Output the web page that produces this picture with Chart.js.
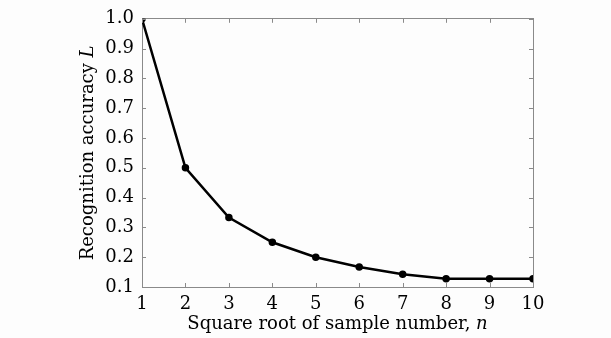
<!DOCTYPE html>
<html>
<head>
<meta charset="utf-8">
<script src="https://cdn.jsdelivr.net/npm/chart.js@4/dist/chart.umd.min.js"></script>
<style>
  html, body { margin: 0; padding: 0; background: #fdfdfd; }
  #wrap { width: 611px; height: 338px; }
</style>
</head>
<body>
<div id="wrap"><canvas id="chart" width="611" height="338"></canvas></div>
<script>
// Data
const sampleRoots = [1, 2, 3, 4, 5, 6, 7, 8, 9, 10];
const accuracy = [1.0, 0.5, 0.333, 0.25, 0.2, 0.167, 0.143, 0.128, 0.128, 0.128];
const yTicks = [0.1, 0.2, 0.3, 0.4, 0.5, 0.6, 0.7, 0.8, 0.9, 1.0];

const FONT = "'DejaVu Serif', 'Liberation Serif', serif";
const axisColor = '#8a8a8a';
const textColor = '#000';

// inward ticks on all four sides + mixed italic axis titles
const framePlugin = {
    id: 'frame',
    afterDraw(chart) {
        const ctx = chart.ctx;
        const a = chart.chartArea;
        const xs = chart.scales.x, ys = chart.scales.y;
        ctx.save();
        ctx.strokeStyle = axisColor;
        ctx.lineWidth = 1;
        ctx.beginPath();
        sampleRoots.forEach(v => {
            const px = Math.round(xs.getPixelForValue(v)) + 0.5;
            ctx.moveTo(px, a.bottom); ctx.lineTo(px, a.bottom - 4);
            ctx.moveTo(px, a.top); ctx.lineTo(px, a.top + 4);
        });
        yTicks.forEach(v => {
            const py = Math.round(ys.getPixelForValue(v)) + 0.5;
            ctx.moveTo(a.left, py); ctx.lineTo(a.left + 4, py);
            ctx.moveTo(a.right, py); ctx.lineTo(a.right - 4, py);
        });
        ctx.stroke();

        // titles
        ctx.fillStyle = textColor;
        ctx.textBaseline = 'middle';
        const drawMixed = (parts, cx, cy) => {
            let total = 0;
            parts.forEach(p => { ctx.font = p.font; total += ctx.measureText(p.text).width; });
            let x = cx - total / 2;
            ctx.textAlign = 'left';
            parts.forEach(p => { ctx.font = p.font; ctx.fillText(p.text, x, cy); x += ctx.measureText(p.text).width; });
        };
        const reg = "18px " + FONT, ita = "italic 18px " + FONT;
        drawMixed([{ text: 'Square root of sample number, ', font: reg }, { text: 'n', font: ita }],
            (a.left + a.right) / 2, 324);
        ctx.save();
        ctx.translate(88, (a.top + a.bottom) / 2);
        ctx.rotate(-Math.PI / 2);
        drawMixed([{ text: 'Recognition accuracy ', font: reg }, { text: 'L', font: ita }], 0, 0);
        ctx.restore();
        ctx.restore();
    }
};

new Chart(document.getElementById('chart').getContext('2d'), {
    type: 'line',
    data: {
        datasets: [{
            data: sampleRoots.map((x, i) => ({ x: x, y: accuracy[i] })),
            borderColor: '#000',
            backgroundColor: '#000',
            borderWidth: 2.5,
            pointRadius: 2.5,
            pointHoverRadius: 2.5,
            tension: 0
        }]
    },
    options: {
        responsive: false,
        animation: false,
        layout: { padding: { top: 15, right: 78, left: 0, bottom: 0 } },
        plugins: { legend: { display: false }, tooltip: { enabled: false } },
        scales: {
            x: {
                type: 'linear',
                min: 1, max: 10,
                afterBuildTicks: s => { s.ticks = sampleRoots.map(v => ({ value: v })); },
                afterFit: s => { s.height = 51; },
                grid: { display: false, drawTicks: false },
                border: { display: true, color: axisColor, width: 1 },
                ticks: { color: textColor, font: { family: FONT, size: 18 }, padding: 7, maxRotation: 0 }
            },
            x2: {
                type: 'linear', position: 'top', min: 1, max: 10,
                grid: { display: false, drawTicks: false },
                border: { display: true, color: axisColor, width: 1 },
                ticks: { display: false },
                afterFit: s => { s.height = 0; }
            },
            y: {
                min: 0.1, max: 1.0,
                afterBuildTicks: s => { s.ticks = yTicks.map(v => ({ value: v })); },
                afterFit: s => { s.width = 142; },
                grid: { display: false, drawTicks: false },
                border: { display: true, color: axisColor, width: 1 },
                ticks: { color: textColor, font: { family: FONT, size: 18 }, padding: 8,
                    callback: v => v.toFixed(1) }
            },
            y2: {
                position: 'right', min: 0.1, max: 1.0,
                grid: { display: false, drawTicks: false },
                border: { display: true, color: axisColor, width: 1 },
                ticks: { display: false },
                afterFit: s => { s.width = 0; }
            }
        }
    },
    plugins: [framePlugin]
});
</script>
</body>
</html>
